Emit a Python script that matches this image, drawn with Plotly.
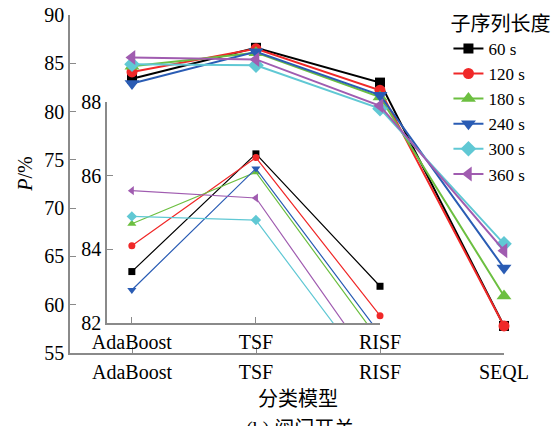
import plotly.graph_objects as go

categories = ["AdaBoost", "TSF", "RISF", "SEQL"]
series_names = ["60 s", "120 s", "180 s", "240 s", "300 s", "360 s"]
values = {
    "60 s":  [83.4, 86.6, 83.0, 57.8],
    "120 s": [84.1, 86.5, 82.2, 57.8],
    "180 s": [84.7, 86.1, 81.5, 60.9],
    "240 s": [82.9, 86.2, 81.7, 63.8],
    "300 s": [84.9, 84.8, 80.3, 66.3],
    "360 s": [85.6, 85.4, 80.6, 65.6],
}
colors = ["#000000", "#f02828", "#6cbf40", "#2a5cb4", "#60c8d4", "#a05cb0"]
symbols = ["square", "circle", "triangle-up", "triangle-down", "diamond", "triangle-left"]
main_sizes = [10, 11, 13, 13, 12, 13]
inset_sizes = [7, 7, 8, 8, 8, 8]
main_ticks = [55, 60, 65, 70, 75, 80, 85, 90]
inset_ticks = [82, 84, 86, 88]

FONT = "Liberation Serif"
CJK = "Liberation Serif, Noto Sans CJK SC"

fig = go.Figure()
for name, col, sym, sz in zip(series_names, colors, symbols, main_sizes):
    fig.add_trace(go.Scatter(
        x=categories, y=values[name], name=name, mode="lines+markers",
        line=dict(color=col, width=2), marker=dict(symbol=sym, size=sz, color=col),
        cliponaxis=False, xaxis="x", yaxis="y"))
for name, col, sym, sz in zip(series_names, colors, symbols, inset_sizes):
    fig.add_trace(go.Scatter(
        x=categories[:3], y=values[name][:3], name=name, mode="lines+markers",
        line=dict(color=col, width=1.2), marker=dict(symbol=sym, size=sz, color=col),
        cliponaxis=False, showlegend=False, xaxis="x2", yaxis="y2"))

axis_common = dict(showline=True, linecolor="#8a8a8a", linewidth=1.5, ticks="inside",
                   tickcolor="#8a8a8a", ticklen=6, showgrid=False, zeroline=False,
                   tickfont=dict(family=FONT, size=20, color="black"))

fig.update_layout(
    width=560, height=426,
    margin=dict(l=70, r=56, t=15, b=73, autoexpand=False),
    paper_bgcolor="white", plot_bgcolor="rgba(0,0,0,0)",
    font=dict(family=CJK, size=20, color="black"),
    xaxis=dict(type="category", categoryorder="array", categoryarray=categories,
               range=[-0.5, 3], domain=[0, 1], anchor="y", **axis_common),
    yaxis=dict(range=[55, 90], tickvals=main_ticks, domain=[0, 1], anchor="x", **axis_common),
    xaxis2=dict(type="category", categoryorder="array", categoryarray=categories[:3],
                range=[-0.2, 2], domain=[0.0853, 0.7143], anchor="y2", **axis_common),
    yaxis2=dict(range=[82, 88], tickvals=inset_ticks, domain=[0.0886, 0.7415], anchor="x2",
                **axis_common),
    legend=dict(x=0.872, y=1.03, xanchor="left", yanchor="top", bgcolor="rgba(0,0,0,0)",
                borderwidth=0, font=dict(family=FONT, size=17, color="black"),
                title=dict(text="子序列长度", font=dict(family=CJK, size=20)),
                tracegroupgap=0),
    showlegend=True,
)

fig.add_annotation(text="<i>P</i>/%", xref="paper", yref="paper", x=-0.104, y=0.53,
                   xanchor="center", yanchor="middle",
                   textangle=-90, showarrow=False, font=dict(family=FONT, size=20))
fig.add_annotation(text="分类模型", xref="paper", yref="paper", x=0.525, y=-0.136,
                   xanchor="center", yanchor="middle",
                   showarrow=False, font=dict(family=CJK, size=20))
fig.add_annotation(text="(b) 阀门开关", xref="paper", yref="paper", x=0.53, y=-0.185,
                   xanchor="center", yanchor="top", showarrow=False,
                   font=dict(family=CJK, size=20))

fig.write_html("out.html")
